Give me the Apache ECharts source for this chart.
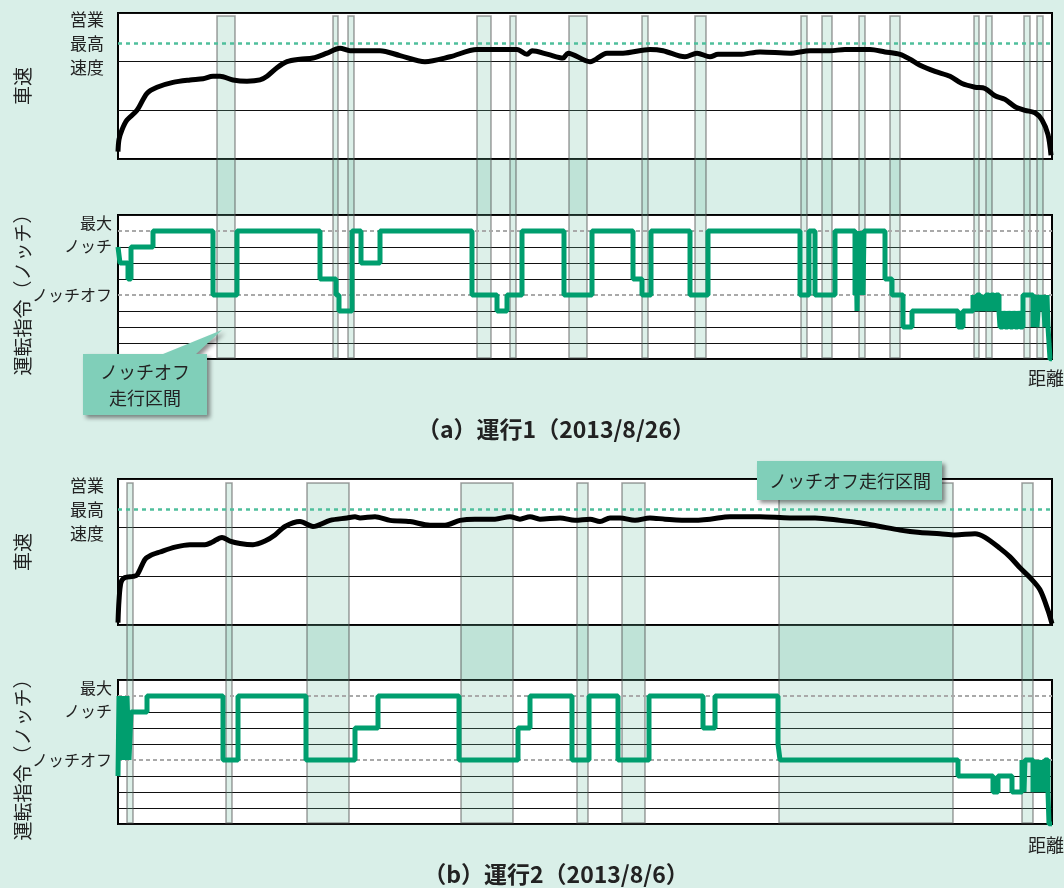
<!DOCTYPE html>
<html>
<head>
<meta charset="utf-8">
<script src="https://cdn.jsdelivr.net/npm/echarts@6/dist/echarts.min.js"></script>
<style>
  html, body { margin: 0; padding: 0; background: #d9efe8; }
  #chart { width: 1064px; height: 888px; }
</style>
</head>
<body>
<div id="chart"></div>
<script>
// ---- scales ----
const DIST_MAX = 934;               // distance along the run (arbitrary units)
const SPEED_MAX = 120, SPEED_STEP = 40;
const SERVICE_MAX_SPEED = 95;       // 営業最高速度
const NOTCH_MIN = -4, NOTCH_MAX = 5;
const NOTCH_FULL = 4, NOTCH_OFF = 0;

// ---- run 1 (2013/8/26) ----
const speed1 = [[0,6],[1,16],[4,24],[9,32],[19,40],[29,54],[39,59],[55,63],[72,65],[85,66],[95,68],[102,68],
  [115,65],[129,64],[142,65],[149,68],[159,75],[169,80],[182,82],[195,83],[209,87],[222,91],[232,89],[262,89],
  [282,85],[307,80],[332,84],[359,90],[382,90],[399,90],[409,86],[414,89],[430,86],[445,83],[450,87],[472,80],
  [489,87],[505,87],[532,90],[545,89],[567,84],[579,87],[592,84],[600,86],[622,86],[642,88],[672,87],[692,89],
  [712,89],[727,90],[752,90],[767,88],[782,86],[792,82],[802,77],[817,72],[832,68],[844,62],[857,59],[867,58],
  [877,52],[887,49],[897,43],[907,40],[917,38],[924,32],[930,20],[933,3]];
const notch1 = [[0,3],[2,2],[10,1],[13,3],[35,4],[95,0],[119,4],[202,1],[218,0],[221,-1],[234,4],[243,2],[262,4],
  [354,0],[379,-1],[389,0],[404,4],[446,0],[474,4],[515,1],[524,0],[533,4],[572,0],[590,4],[682,0],[691,4],[697,0],
  [717,4],[737,0],[738,4],[739,-1],[740,4],[741,0],[742,3],[743,1],[744,4],[745,0],[746,4],[767,1],[774,0],[785,-2],
  [794,-1],[840,-2],[845,-1],[855,0],[857,-1],[859,0],[862,-1],[864,0],[866,-1],[868,0],[871,-1],[873,0],[876,-1],
  [878,0],[881,-1],[882,-2],[885,-1],[887,-2],[890,-1],[892,-2],[895,-1],[897,-2],[900,-1],[902,-2],[905,0],
  [915,-2],[917,0],[919,-2],[921,0],[923,-1],[925,0],[927,-2],[929,0],[930,-2],[932,-4],[934,-4]];
const coast1 = [[99,117],[215,220],[230,236],[359,373],[392,398],[451,469],[524,530],[577,588],[683,689],
  [704,714],[741,747],[772,782],[856,861],[868,874],[906,912],[919,925]];

// ---- run 2 (2013/8/6) ----
const speed2 = [[0,2],[1,20],[3,35],[7,39],[15,40],[19,41],[27,54],[32,57],[42,60],[57,64],[72,66],[87,66],[94,68],
  [104,72],[112,69],[122,67],[135,66],[147,69],[157,74],[167,81],[182,85],[195,81],[212,86],[229,88],[237,89],
  [242,88],[257,89],[272,86],[292,85],[312,82],[327,82],[342,86],[357,87],[377,87],[392,89],[402,87],[412,89],
  [422,87],[442,88],[457,86],[472,87],[482,85],[492,88],[502,88],[517,86],[532,88],[547,87],[572,86],[592,87],
  [612,89],[642,89],[672,88],[697,88],[722,86],[742,84],[762,81],[782,78],[802,76],[822,75],[837,74],[857,75],
  [867,72],[882,63],[892,56],[902,47],[912,39],[922,29],[930,12],[934,1]];
const notch2 = [[0,-1],[1,4],[2,0],[3,4],[5,0],[6,4],[8,0],[9,4],[11,0],[13,3],[29,4],[105,0],[120,4],[188,0],
  [237,2],[260,4],[341,0],[400,2],[412,4],[454,0],[471,4],[500,0],[531,4],[585,2],[597,4],[660,1],[662,0],
  [840,-1],[875,-2],[880,-1],[894,-2],[904,0],[906,-2],[907,0],[915,-2],[916,0],[918,-2],[920,0],[922,-2],
  [923,0],[925,-2],[927,0],[930,-2],[931,-4],[934,-4]];
const coast2 = [[9,15],[108,114],[189,231],[343,395],[459,470],[504,527],[661,835],[904,915]];

// ---- text ----
const panelTitles = ['（a）運行1（2013/8/26）', '（b）運行2（2013/8/6）'];
const speedAxisName = '車速';
const notchAxisName = '運転指令（ノッチ）';
const serviceMaxLabel = '営業\n最高\n速度';
const notchFullLabel = ['最大', 'ノッチ'];
const notchOffLabel = 'ノッチオフ';
const distanceLabel = '距離';
const coastLabel = 'ノッチオフ走行区間';

const FONT = '"Noto Sans CJK JP", "Noto Sans", sans-serif';
const INK = '#222';
const NOTCH_GREEN = '#009e6e';

const runs = [
  { speed: speed1, notch: notch1, coast: coast1, speedTop: 13, notchTop: 215, bandTop: 16, bandBottom: 358 },
  { speed: speed2, notch: notch2, coast: coast2, speedTop: 479, notchTop: 680, bandTop: 483, bandBottom: 823 }
];

const grid = [], xAxis = [], yAxis = [], series = [];

runs.forEach((run, p) => {
  const gS = 3 * p, gN = 3 * p + 1, gB = 3 * p + 2;
  const boxed = { left: 118, width: 934, show: true, backgroundColor: '#fff', borderColor: '#000', borderWidth: 2, outerBoundsMode: 'none' };
  grid.push(Object.assign({ top: run.speedTop, height: 146 }, boxed));
  grid.push(Object.assign({ top: run.notchTop, height: 144 }, boxed));
  grid.push({ left: 118, width: 934, top: run.bandTop, height: run.bandBottom - run.bandTop, show: false, outerBoundsMode: 'none' });

  [gS, gN, gB].forEach(g => xAxis.push({
    type: 'value', gridIndex: g, min: 0, max: DIST_MAX,
    axisLine: { show: false }, axisTick: { show: false }, axisLabel: { show: false }, splitLine: { show: false }
  }));

  // speed axis
  yAxis.push({
    type: 'value', gridIndex: gS, min: 0, max: SPEED_MAX, interval: SPEED_STEP,
    axisLine: { show: false }, axisTick: { show: false }, axisLabel: { show: false },
    splitLine: { show: true, lineStyle: { color: '#111', width: 1 } },
    name: speedAxisName, nameLocation: 'middle', nameRotate: 90, nameGap: 86, nameMoveOverlap: false,
    nameTextStyle: { fontFamily: FONT, fontSize: 19, color: INK }
  });
  // notch axis: every notch level gets a grid line; full notch and notch-off get dashed overlays instead
  const lineColors = [];
  for (let v = NOTCH_MIN; v <= NOTCH_MAX; v++) {
    lineColors.push(v === NOTCH_FULL || v === NOTCH_OFF ? 'rgba(0,0,0,0)' : '#111');
  }
  yAxis.push({
    type: 'value', gridIndex: gN, min: NOTCH_MIN, max: NOTCH_MAX, interval: 1,
    axisLine: { show: false }, axisTick: { show: false },
    axisLabel: {
      show: true, margin: 6, fontFamily: FONT, fontSize: 16, color: INK, lineHeight: 23,
      formatter: v => v === NOTCH_FULL ? '{f|' + notchFullLabel.join('}\n{f|') + '}' : (v === NOTCH_OFF ? notchOffLabel : ''),
      rich: { f: { fontFamily: FONT, fontSize: 16, color: INK, lineHeight: 23, padding: [7, 0, 0, 0] } }
    },
    splitLine: { show: true, lineStyle: { color: lineColors, width: 1 } },
    name: notchAxisName, nameLocation: 'middle', nameRotate: 90, nameGap: 86, nameMoveOverlap: false,
    nameTextStyle: { fontFamily: FONT, fontSize: 19, color: INK, padding: [0, 6, 0, 0] }
  });
  yAxis.push({
    type: 'value', gridIndex: gB, min: 0, max: 1, show: false
  });

  // notch-off running intervals
  series.push({
    type: 'custom', xAxisIndex: gB, yAxisIndex: gB, z: 4, silent: true,
    data: run.coast, encode: { x: [0, 1] },
    renderItem: (params, api) => {
      const a = api.coord([api.value(0), 1]);
      const b = api.coord([api.value(1), 0]);
      return {
        type: 'rect',
        shape: { x: a[0], y: a[1], width: b[0] - a[0], height: b[1] - a[1] },
        style: { fill: 'rgba(110,190,160,0.23)', stroke: 'rgba(80,80,80,0.55)', lineWidth: 1.5 }
      };
    }
  });

  // vehicle speed
  series.push({
    type: 'line', xAxisIndex: gS, yAxisIndex: gS, z: 5, data: run.speed,
    smooth: 0.3, symbol: 'none', silent: true,
    lineStyle: { color: '#000', width: 5 },
    markLine: {
      silent: true, symbol: 'none', animation: false,
      lineStyle: { color: '#4fbf9c', type: [4, 4], width: 2.5 },
      label: {
        show: true, position: 'start', distance: 14, formatter: serviceMaxLabel,
        fontFamily: FONT, fontSize: 17, lineHeight: 24, color: INK
      },
      data: [{ yAxis: SERVICE_MAX_SPEED }]
    }
  });

  // notch command
  series.push({
    type: 'line', xAxisIndex: gN, yAxisIndex: gN, z: 5, data: run.notch,
    step: 'end', symbol: 'none', silent: true,
    lineStyle: { color: NOTCH_GREEN, width: 5 }
  });

  // full notch / notch-off reference lines drawn above the command trace
  series.push({
    type: 'line', xAxisIndex: gN, yAxisIndex: gN, z: 8, data: [], silent: true,
    markLine: {
      silent: true, symbol: 'none', animation: false, label: { show: false },
      lineStyle: { color: '#a9a9a9', type: [4, 3], width: 2 },
      data: [{ yAxis: NOTCH_FULL }, { yAxis: NOTCH_OFF }]
    }
  });
});

const titleStyle = { fontFamily: FONT, fontSize: 23, fontWeight: 'bold', color: INK };
const smallStyle = { fontFamily: FONT, fontSize: 18, fontWeight: 'normal', color: INK };

const option = {
  backgroundColor: '#d9efe8',
  animation: false,
  title: [
    { text: panelTitles[0], left: 556, top: 418, textAlign: 'center', padding: 0, textStyle: titleStyle },
    { text: panelTitles[1], left: 556, top: 863, textAlign: 'center', padding: 0, textStyle: titleStyle },
    { text: distanceLabel, left: 1046, top: 369, textAlign: 'center', padding: 0, textStyle: smallStyle },
    { text: distanceLabel, left: 1046, top: 836, textAlign: 'center', padding: 0, textStyle: smallStyle }
  ],
  grid, xAxis, yAxis, series,
  graphic: [
    {
      type: 'polygon', z: 100,
      shape: { points: [[83, 354], [163, 354], [222, 330], [196, 354], [207, 354], [207, 415], [83, 415]] },
      style: { fill: '#80cfb9', shadowBlur: 4, shadowOffsetX: 3, shadowOffsetY: 3, shadowColor: 'rgba(0,0,0,0.45)' }
    },
    {
      type: 'text', z: 101, x: 145, y: 385,
      style: { text: 'ノッチオフ\n走行区間', fill: INK, fontFamily: FONT, fontSize: 18, lineHeight: 26, align: 'center', verticalAlign: 'middle' }
    },
    {
      type: 'rect', z: 100,
      shape: { x: 757, y: 461, width: 185, height: 39 },
      style: { fill: '#80cfb9', shadowBlur: 4, shadowOffsetX: 3, shadowOffsetY: 3, shadowColor: 'rgba(0,0,0,0.45)' }
    },
    {
      type: 'text', z: 101, x: 850, y: 481,
      style: { text: coastLabel, fill: INK, fontFamily: FONT, fontSize: 18, align: 'center', verticalAlign: 'middle' }
    }
  ]
};

const chart = echarts.init(document.getElementById('chart'), null, { renderer: 'canvas' });
chart.setOption(option);
</script>
</body>
</html>
